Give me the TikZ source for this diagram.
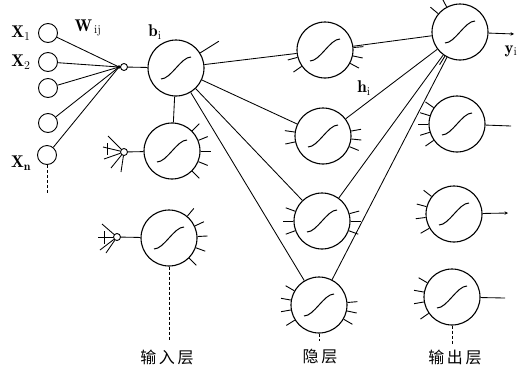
\documentclass[tikz,border=0pt]{standalone}
\usepackage{fontspec}
\newfontfamily\cjk{Noto Sans CJK SC}
\usetikzlibrary{arrows.meta}

% S-shaped transfer curve drawn inside a neuron
\newcommand\sigcurve[1]{%
  \draw[line width=1pt] ([shift={(-15pt,-11pt)}]#1.center)
    .. controls +(10pt,0pt) and +(-10pt,0pt) .. ([shift={(15pt,11pt)}]#1.center);}
% short dendrite strokes on the rim of a neuron
\newcommand\dendrites[3]{%
  \foreach \a in {#2} {\draw[line width=0.9pt] (#1.\a) -- ++(\a:#3);}}

\begin{document}
\begin{tikzpicture}[x=1pt,y=-1pt,
  neuron/.style={circle,draw,line width=1.1pt,minimum size=56pt,inner sep=0pt},
  inpt/.style={circle,draw,line width=0.9pt,minimum size=19pt,inner sep=0pt},
  junction/.style={circle,draw,line width=0.9pt,minimum size=7pt,inner sep=0pt,fill=white},
  link/.style={line width=0.85pt},
  dashln/.style={line width=0.85pt,dash pattern=on 3pt off 2pt},
  lbl/.style={font=\bfseries\fontsize{17}{19}\selectfont,inner sep=0pt},
  layer/.style={font=\cjk\fontsize{16}{18}\selectfont,inner sep=0pt}]
\useasboundingbox (0,0) rectangle (526,370);

% input terminals
\node[inpt] (x1) at (48,33) {};
\node[inpt] (x2) at (48,62) {};
\node[inpt] (x3) at (48,88) {};
\node[inpt] (x4) at (48,123) {};
\node[inpt] (x5) at (47,155) {};
\node[lbl] (lx1) at (21,33) {$\mathbf{X}_{1}$};
\node[lbl] (lx2) at (21,62) {$\mathbf{X}_{2}$};
\node[lbl] (lx5) at (21,163) {$\mathbf{X}_{\mathbf{n}}$};
\node[lbl] (lw) at (88,28) {$\mathbf{W}_{\,\mathrm{ij}}$};
\coordinate (xe) at (47,193);
\draw[dashln] (x5) -- (xe);

% junctions feeding the input layer
\coordinate (j1c) at (119,67);
\node[junction] (j1) at (124,67) {};
\foreach \n in {x1,x2,x3,x4,x5} {\draw[link] (\n) -- (j1c);}
\fill (j1c) circle (1.8pt);
\node[junction] (j2) at (124,152) {};
\node[junction] (j3) at (117,237) {};

% neurons
\node[neuron] (a1) at (176,68) {};
\node[neuron] (a2) at (172,151) {};
\node[neuron] (a3) at (169,238) {};
\node[neuron] (h1) at (325,50) {};
\node[neuron] (h2) at (323,136) {};
\node[neuron] (h3) at (322,221) {};
\node[neuron] (h4) at (319,305) {};
\node[neuron] (o1) at (460,32) {};
\node[neuron] (o2) at (457,124) {};
\node[neuron] (o3) at (454,214) {};
\node[neuron] (o4) at (452,297) {};
\foreach \n in {a1,a2,a3,h1,h2,h3,h4,o1,o2,o3,o4} {\sigcurve{\n}}

% junction to neuron links
\draw[link] (j1) -- (a1);
\draw[link] (j2) -- (a2);
\draw[link] (j3) -- (a3);
\draw[link] (a1) -- (a2);

% incoming strokes at the lower junctions
\coordinate (s21) at (108,136);
\coordinate (s22) at (103,147);
\coordinate (s23) at (104,159);
\coordinate (s24) at (111,168);
\coordinate (s25) at (121,172);
\foreach \s in {s21,s22,s23,s24,s25} {\draw[link] (j2) -- (\s);}
\coordinate (b2t) at (107,143);
\coordinate (b2b) at (107,155);
\draw[link] (b2t) -- (b2b);
\coordinate (s31) at (102,224);
\coordinate (s32) at (98,237);
\coordinate (s33) at (100,250);
\coordinate (s34) at (106,253);
\foreach \s in {s31,s32,s33,s34} {\draw[link] (j3) -- (\s);}
\coordinate (b3t) at (104,231);
\coordinate (b3b) at (104,244);
\draw[link] (b3t) -- (b3b);

% input layer to hidden layer
\foreach \h in {h1,h2,h3,h4} {\draw[link] (a1) -- (\h);}
% hidden layer to first output
\foreach \h in {h1,h2,h3,h4} {\draw[link] (\h) -- (o1);}

% dendrites
\dendrites{a1}{32}{22pt}
\dendrites{a2}{45,22,0,-22,-45}{10pt}
\dendrites{a3}{50,25,3,-20,-45}{10pt}
\dendrites{h1}{195,215,5,-12,-28}{10pt}
\dendrites{h2}{172,192,10,-6,-22}{10pt}
\dendrites{h3}{160,180,200,15,0,-20}{10pt}
\dendrites{h4}{150,170,190,212,5,-12,-30}{10pt}
\dendrites{o1}{118,140,238}{10pt}
\dendrites{o2}{145,163,180,197,215}{10pt}
\dendrites{o3}{142,165,187,210}{10pt}
\dendrites{o4}{150,170,190,215}{10pt}

% outputs
\coordinate (e1) at (514,34);
\coordinate (e2) at (511,126);
\coordinate (e3) at (508,213);
\coordinate (e4) at (505,298);
\draw[link,-{Stealth[length=3.5pt,width=3.5pt]}] (o1) -- (e1);
\draw[link] (o2) -- (e2);
\draw[link,-{Stealth[length=3.5pt,width=3.5pt]}] (o3) -- (e3);
\draw[link] (o4) -- (e4);

% dashed layer markers
\coordinate (ae) at (169,340);
\coordinate (he) at (319,341);
\coordinate (oe) at (452,344);
\draw[dashln] (a3) -- (ae);
\draw[dashln] (h4) -- (he);
\draw[dashln] (o4) -- (oe);

% labels
\node[lbl] (lb) at (155,32) {$\mathbf{b}_{\mathrm{i}}$};
\node[lbl] (lh) at (364,88) {$\mathbf{h}_{\mathrm{i}}$};
\node[lbl] (ly) at (511,51) {$\mathbf{y}_{\mathrm{i}}$};
\node[layer] (ta) at (167,357) {输\,入\,层};
\node[layer] (th) at (320,357) {隐\,层};
\node[layer] (to) at (455,357) {输\,出\,层};
\end{tikzpicture}
\end{document}
